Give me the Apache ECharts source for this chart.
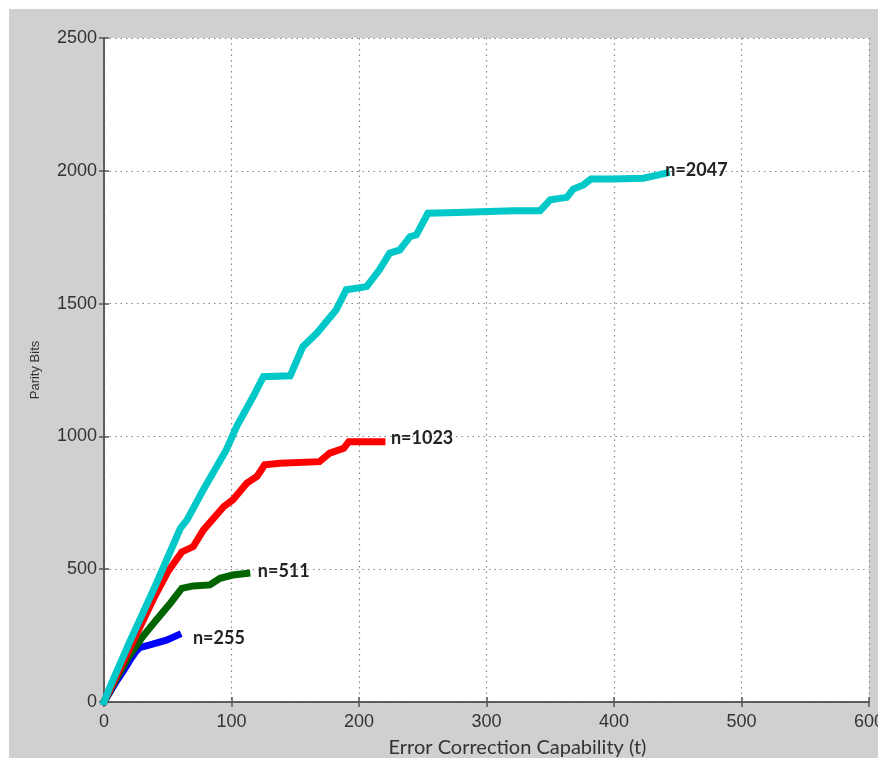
<!DOCTYPE html>
<html><head><meta charset="utf-8">
<script src="https://cdn.jsdelivr.net/npm/echarts@6/dist/echarts.min.js"></script>
<style>html,body{margin:0;padding:0;background:#fff}#c{width:878px;height:758px}</style>
</head><body><div id="c"></div>
<script>
// Error correction capability t (x) and parity bits (y) per code length n
const seriesNames = ["n=2047", "n=1023", "n=511", "n=255"];
const t2047 = [0, 5, 10, 20, 30, 40, 50, 60, 65, 78, 96, 104, 117, 125, 146, 156, 167, 182, 190, 206, 216, 224, 232, 240, 245, 254, 277, 321, 342, 350, 363, 368, 376, 382, 399, 423, 441];
const p2047 = [0, 60, 115, 225, 330, 435, 545, 655, 685, 800, 950, 1037, 1150, 1225, 1228, 1338, 1389, 1476, 1552, 1564, 1627, 1690, 1702, 1752, 1759, 1840, 1843, 1850, 1850, 1891, 1900, 1931, 1947, 1969, 1969, 1972, 1991];
const t1023 = [0, 5, 10, 20, 30, 40, 50, 61, 70, 78, 94, 101, 112, 120, 126, 138, 169, 177, 188, 192, 206, 218];
const p1023 = [0, 50, 100, 200, 300, 400, 490, 565, 585, 648, 736, 761, 824, 849, 893, 899, 905, 937, 955, 980, 980, 980];
const t511 = [0, 5, 10, 20, 31, 41, 52, 61, 70, 83, 91, 101, 112];
const p511 = [0, 45, 90, 175, 250, 309, 372, 428, 437, 441, 466, 478, 484];
const t255 = [0, 5, 10, 15, 20, 25, 28, 36, 49, 58];
const p255 = [0, 40, 80, 115, 155, 190, 205, 215, 233, 252];
const seriesColors = ["#00c8c8", "#ff0000", "#006400", "#0000ff"];
const xTicks = [0, 100, 200, 300, 400, 500, 600];
const yTicks = [0, 500, 1000, 1500, 2000, 2500];

const xs = [t2047, t1023, t511, t255];
const ys = [p2047, p1023, p511, p255];
const labelOffsets = [[-4, -3], [6, -4], [8, -2], [12, 3]];

const chart = echarts.init(document.getElementById('c'), null, {renderer: 'canvas'});
const tickFont = {fontFamily: 'Liberation Sans', fontSize: 18, color: '#333', formatter: v => String(v)};
const axisLineStyle = {color: '#555', width: 1.5};
const gridLine = {show: true, lineStyle: {color: '#888', type: [1.5, 4], width: 1.2}};

chart.setOption({
  animation: false,
  backgroundColor: '#ffffff',
  graphic: [{type: 'rect', z: -10, silent: true, shape: {x: 9, y: 9, width: 878, height: 760}, style: {fill: '#d0d0d0'}}],
  grid: {left: 104, top: 38, width: 765, height: 664, show: true, backgroundColor: '#ffffff', borderWidth: 0,
    containLabel: false, outerBoundsMode: 'none'},
  xAxis: [{
    type: 'value', min: xTicks[0], max: xTicks[xTicks.length - 1], interval: 100,
    name: 'Error Correction Capability (t)', nameLocation: 'middle', nameGap: 36,
    nameTextStyle: {fontFamily: 'Lato', fontSize: 20, color: '#333', padding: [0, 0, 0, 62]},
    axisLine: {show: true, onZero: false, lineStyle: axisLineStyle},
    axisTick: {show: true, inside: true, length: 5, lineStyle: axisLineStyle},
    axisLabel: Object.assign({margin: 11, showMaxLabel: true, hideOverlap: false}, tickFont),
    splitLine: gridLine
  }, {
    type: 'value', position: 'top', min: 0, max: 600, interval: 100,
    axisLine: {show: true, lineStyle: axisLineStyle},
    axisTick: {show: true, inside: true, length: 5, lineStyle: axisLineStyle},
    axisLabel: {show: false}, splitLine: {show: false}
  }],
  yAxis: [{
    type: 'value', min: yTicks[0], max: yTicks[yTicks.length - 1], interval: 500,
    name: 'Parity Bits', nameLocation: 'middle', nameGap: 62,
    nameTextStyle: {fontFamily: 'Liberation Sans', fontSize: 13, color: '#333'},
    axisLine: {show: true, onZero: false, lineStyle: axisLineStyle},
    axisTick: {show: true, inside: true, length: 5, lineStyle: axisLineStyle},
    axisLabel: Object.assign({margin: 7}, tickFont),
    splitLine: gridLine
  }, {
    type: 'value', position: 'right', min: 0, max: 2500, interval: 500,
    axisLine: {show: true, lineStyle: axisLineStyle},
    axisTick: {show: true, inside: true, length: 5, lineStyle: axisLineStyle},
    axisLabel: {show: false}, splitLine: {show: false}
  }],
  series: seriesNames.map((name, i) => ({
    name: name, type: 'line', showSymbol: false, symbol: 'none',
    data: xs[i].map((t, k) => [t, ys[i][k]]),
    lineStyle: {color: seriesColors[i], width: 7, cap: 'square', join: 'miter'},
    itemStyle: {color: seriesColors[i]},
    z: 10 - i,
    endLabel: {show: true, formatter: name, distance: 3, offset: labelOffsets[i],
      fontFamily: 'Lato', fontWeight: 'bold', fontSize: 18, color: '#222'}
  }))
});
</script></body></html>
